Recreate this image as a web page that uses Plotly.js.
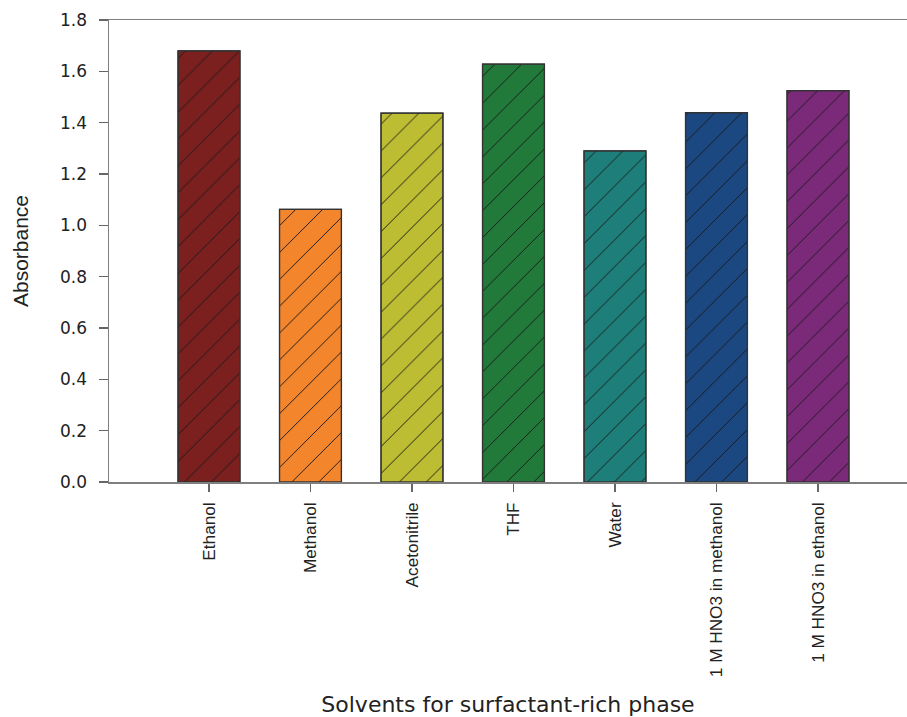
<!DOCTYPE html>
<html>
<head>
<meta charset="utf-8">
<script src="https://cdn.plot.ly/plotly-3.0.1.min.js"></script>
<style>html,body{margin:0;padding:0;background:#fff;}#chart{width:907px;height:717px;}</style>
</head>
<body>
<div id="chart"></div>
<script>
const categories = ["Ethanol", "Methanol", "Acetonitrile", "THF", "Water", "1 M HNO3 in methanol", "1 M HNO3 in ethanol"];
const absorbance = [1.680, 1.062, 1.437, 1.628, 1.290, 1.439, 1.525];
const barColors = ["#7B1F1F", "#F3852D", "#BDBD33", "#227A3A", "#1E7F7A", "#1B4880", "#7B2A7A"];
const yTickVals = [0, 0.2, 0.4, 0.6, 0.8, 1.0, 1.2, 1.4, 1.6, 1.8];
const yTickText = ["0.0", "0.2", "0.4", "0.6", "0.8", "1.0", "1.2", "1.4", "1.6", "1.8"];

const xIdx = categories.map((c, i) => i);

// solid fill
const fillTrace = {
  type: "bar",
  x: xIdx,
  y: absorbance,
  width: 0.61,
  marker: {color: barColors, line: {color: "#333333", width: 1.2}},
  hoverinfo: "skip"
};
// hatch overlay
const hatchTrace = {
  type: "bar",
  x: xIdx,
  y: absorbance,
  width: 0.61,
  marker: {
    color: "#1a1a1a",
    line: {color: "#333333", width: 1.2},
    pattern: {shape: "/", size: 19, solidity: 0.05, fillmode: "replace", fgopacity: 1}
  },
  hoverinfo: "skip"
};

const font = "Liberation Sans, Arial, sans-serif";
const wide = "DejaVu Sans, sans-serif";
const layout = {
  width: 907, height: 717,
  margin: {l: 109, r: 0, t: 20, b: 235},
  paper_bgcolor: "#ffffff", plot_bgcolor: "#ffffff",
  showlegend: false,
  barmode: "overlay",
  bargap: 0,
  xaxis: {
    range: [-0.985, 6.877],
    tickmode: "array",
    tickvals: xIdx,
    ticktext: categories,
    tickangle: -90,
    ticks: "outside", ticklen: 8, tickwidth: 1.5, tickcolor: "#666666",
    ticklabelstandoff: 4,
    showline: true, linecolor: "#7f7f7f", linewidth: 1.5, mirror: true,
    showgrid: false, zeroline: false,
    tickfont: {family: font, size: 17.2, color: "#222222"},
    automargin: false,
    title: {text: "Solvents for surfactant-rich phase", font: {family: wide, size: 22, color: "#222222"}, standoff: 40}
  },
  yaxis: {
    range: [0, 1.8],
    tickmode: "array",
    tickvals: yTickVals,
    ticktext: yTickText,
    ticks: "outside", ticklen: 9, tickwidth: 1.5, tickcolor: "#666666",
    ticklabelstandoff: 8,
    showline: true, linecolor: "#7f7f7f", linewidth: 1.5,
    showgrid: false, zeroline: false,
    tickfont: {family: wide, size: 17, color: "#222222"},
    automargin: false,
    title: {text: "Absorbance", font: {family: font, size: 21, color: "#222222"}, standoff: 25}
  }
};

Plotly.newPlot("chart", [fillTrace, hatchTrace], layout, {displayModeBar: false, staticPlot: true});
</script>
</body>
</html>
